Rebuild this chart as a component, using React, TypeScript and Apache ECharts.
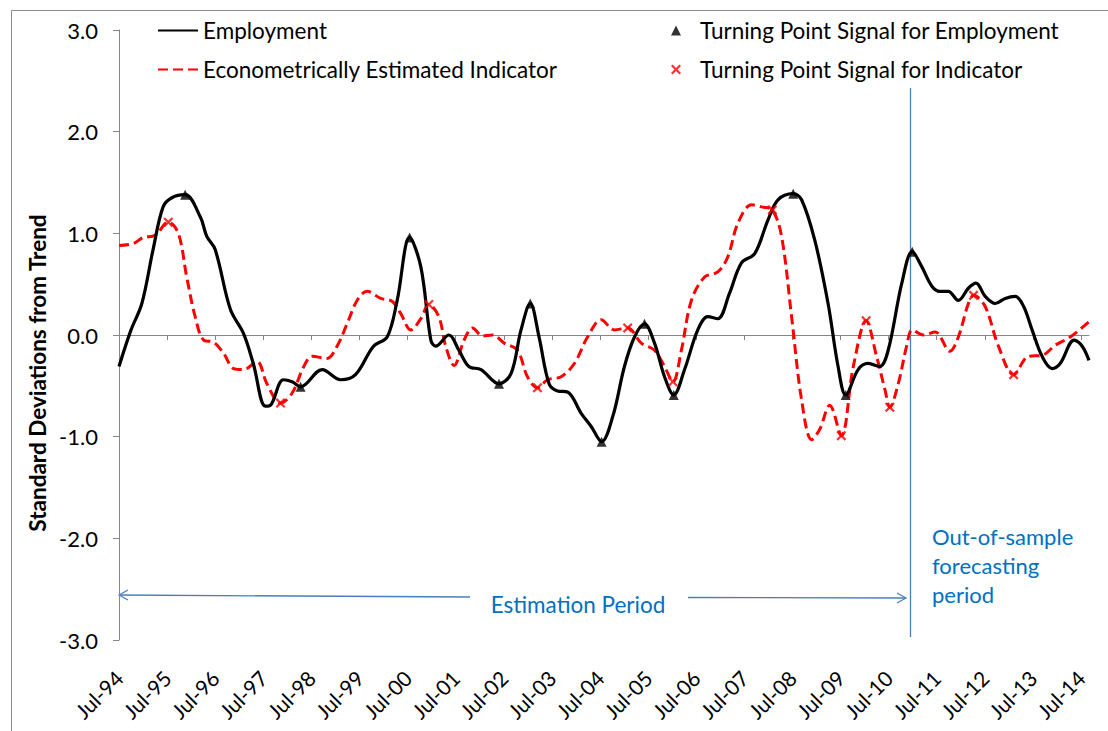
import React, { useEffect, useRef } from 'react';
import * as echarts from 'echarts';

// Tick labels (one per July, x measured in months from Jul-94)
const tickLabels = ['Jul-94','Jul-95','Jul-96','Jul-97','Jul-98','Jul-99','Jul-00','Jul-01','Jul-02','Jul-03','Jul-04','Jul-05','Jul-06','Jul-07','Jul-08','Jul-09','Jul-10','Jul-11','Jul-12','Jul-13','Jul-14'];

// Employment (standard deviations from trend) [month since Jul-94, value]
const employment: [number, number][] = [
  [0, -0.31],[3, 0.05],[5.7, 0.31],[8.5, 0.84],[11, 1.26],[13.2, 1.35],[16.5, 1.38],[20.3, 1.16],[21.9, 0.97],[24, 0.84],
  [27.8, 0.25],[31, 0.02],[33.5, -0.28],[36.5, -0.70],[37.8, -0.69],[41, -0.44],[43.2, -0.46],[45.3, -0.51],[50.7, -0.34],[55.3, -0.44],
  [59, -0.39],[63.5, -0.11],[66.9, -0.02],[69.4, 0.34],[72.5, 0.96],[75.3, 0.67],[77.8, -0.05],[79, -0.11],[82.3, 0.0],[84.8, -0.15],
  [87.3, -0.31],[90.3, -0.34],[94.8, -0.48],[97.8, -0.38],[100.3, 0.05],[102.6, 0.31],[104.8, -0.02],[107.3, -0.48],[109.4, -0.55],[111.9, -0.56],
  [115.3, -0.77],[117.8, -0.90],[120.4, -1.05],[123.2, -0.80],[126.1, -0.31],[128.6, -0.02],[131.1, 0.11],[133.6, -0.08],[136.1, -0.41],[138.4, -0.59],
  [141.1, -0.34],[144.4, 0.05],[146.9, 0.18],[149.4, 0.16],[152.3, 0.41],[155.3, 0.71],[158.6, 0.80],[161.9, 1.13],[164.4, 1.33],[168.2, 1.39],
  [170.3, 1.33],[173.6, 0.93],[176.9, 0.31],[179.4, -0.31],[181.3, -0.59],[184.4, -0.34],[186.9, -0.28],[189.8, -0.31],[191.9, -0.15],[195.3, 0.51],
  [197.9, 0.82],[200.3, 0.67],[202.8, 0.48],[204.8, 0.43],[206.9, 0.43],[209.4, 0.34],[211.9, 0.46],[213.8, 0.51],[216.1, 0.38],[218.6, 0.31],
  [221.1, 0.36],[223.6, 0.38],[225.7, 0.28],[227.8, 0.05],[230.3, -0.21],[232.8, -0.33],[234.8, -0.28],[238.3, -0.05],[240.3, -0.11],[242, -0.25]
];

// Econometrically estimated indicator
const indicator: [number, number][] = [
  [0, 0.88],[3.6, 0.90],[6.1, 0.96],[9, 0.98],[12.3, 1.11],[14.8, 1.0],[16.9, 0.57],[19, 0.18],[21.1, -0.05],[23.6, -0.07],
  [26.1, -0.18],[28.6, -0.33],[31.1, -0.34],[34.4, -0.26],[36.9, -0.48],[40.3, -0.67],[43.2, -0.57],[46.1, -0.31],[48.2, -0.21],[51.9, -0.23],
  [54.4, -0.11],[56.9, 0.11],[59.4, 0.34],[61.9, 0.43],[65.3, 0.36],[68.2, 0.33],[70.3, 0.21],[72.8, 0.05],[75.3, 0.16],[77.3, 0.30],
  [79.8, 0.18],[81.5, -0.11],[83.6, -0.30],[86.1, -0.05],[88.2, 0.07],[90.7, -0.01],[93.2, 0.0],[96.1, -0.08],[99.4, -0.15],[101.9, -0.41],
  [104.4, -0.52],[106.9, -0.44],[110.3, -0.41],[113.6, -0.28],[116.9, -0.02],[120.3, 0.15],[123.6, 0.05],[126.9, 0.07],[130.3, -0.08],[133.6, -0.15],
  [136.1, -0.31],[138.2, -0.46],[140.3, -0.15],[142.8, 0.34],[146.1, 0.57],[149.4, 0.62],[151.9, 0.77],[154.4, 1.10],[157.8, 1.28],[160.3, 1.26],
  [163, 1.23],[165.3, 0.97],[167.8, 0.18],[170.3, -0.64],[172.8, -1.03],[174.8, -0.93],[177.3, -0.69],[180.2, -0.99],[183.2, -0.31],[186.4, 0.14],
  [189, -0.21],[191.1, -0.54],[192.3, -0.71],[194.4, -0.48],[196.5, -0.11],[197.9, 0.05],[200.7, 0.0],[203.6, 0.03],[207.3, -0.16],[209.4, -0.02],
  [211.9, 0.31],[213.2, 0.39],[216.1, 0.28],[219.4, -0.11],[223.2, -0.39],[226.9, -0.21],[230.3, -0.20],[233.6, -0.10],[237.3, -0.02],[242, 0.13]
];

// Turning point signals
const employmentTurningPoints: [number, number][] = [
  [16.5, 1.38],[45.3, -0.51],[72.5, 0.96],[94.8, -0.48],[102.6, 0.31],[120.4, -1.05],[131.1, 0.11],[138.4, -0.59],[168.2, 1.39],[181.3, -0.59],[197.9, 0.82]
];
const indicatorTurningPoints: [number, number][] = [
  [12.3, 1.11],[40.3, -0.67],[77.3, 0.30],[104.4, -0.52],[126.9, 0.07],[138.2, -0.46],[163, 1.23],[180.2, -0.99],[186.4, 0.14],[192.3, -0.71],[213.2, 0.39],[223.2, -0.39]
];

const X_MAX = 242;
const FONT = 'Lato, "Open Sans", sans-serif';
const BLUE_TEXT = '#0070C0';
const BLUE_LINE = '#4A7EBB';
const CROSS = 'path://M0,1.6 L1.6,0 L5,3.4 L8.4,0 L10,1.6 L6.6,5 L10,8.4 L8.4,10 L5,6.6 L1.6,10 L0,8.4 L3.4,5 Z';

export default function App() {
  const ref = useRef<HTMLDivElement>(null);
  useEffect(() => {
    if (!ref.current) return;
    const chart = echarts.init(ref.current, undefined, { renderer: 'svg' });
    const tickValues = tickLabels.map((_, i) => i * 12);
    const labelFmt = (v: number) => {
      const i = Math.round(v / 12);
      return Math.abs(v - i * 12) < 0.01 && tickLabels[i] ? tickLabels[i] : '';
    };
    chart.setOption({
      animation: false,
      backgroundColor: '#ffffff',
      textStyle: { fontFamily: FONT },
      grid: { left: 119, right: 19, top: 30, bottom: 91, outerBoundsMode: 'none' },
      legend: [
        {
          data: ['Employment', 'Econometrically Estimated Indicator'],
          orient: 'vertical', left: 157, top: 19, padding: 0, itemWidth: 40, itemHeight: 12, itemGap: 16,
          itemStyle: { opacity: 0 },
          textStyle: { fontSize: 22.5, fontFamily: FONT, color: '#000' },
        },
        {
          data: ['Turning Point Signal for Employment', 'Turning Point Signal for Indicator'],
          orient: 'vertical', left: 671, top: 19, padding: 0, itemWidth: 10, itemHeight: 10, itemGap: 16,
          symbolKeepAspect: true,
          textStyle: { fontSize: 22.5, fontFamily: FONT, color: '#000', padding: [0, 0, 0, 14] },
        },
      ],
      xAxis: [
        {
          type: 'value', min: 0, max: X_MAX, position: 'bottom',
          axisLine: { onZero: true, lineStyle: { color: '#868686', width: 1 } },
          axisTick: { show: true, length: 5, customValues: tickValues, lineStyle: { color: '#868686' } },
          axisLabel: { show: false },
          splitLine: { show: false },
        },
        {
          type: 'value', min: 0, max: X_MAX, position: 'bottom',
          axisLine: { show: false, onZero: false },
          axisTick: { show: false },
          axisLabel: {
            show: true, rotate: 45, margin: 34, customValues: tickValues, formatter: labelFmt,
            fontSize: 21, fontFamily: FONT, color: '#000',
          },
          splitLine: { show: false },
        },
      ],
      yAxis: {
        type: 'value', min: -3, max: 3, interval: 1,
        axisLine: { show: true, lineStyle: { color: '#868686' } },
        axisTick: { show: true, length: 6, lineStyle: { color: '#868686' } },
        axisLabel: { margin: 21, fontSize: 22, fontFamily: FONT, color: '#000', formatter: (v: number) => v.toFixed(1) },
        splitLine: { show: false },
      },
      series: [
        {
          name: 'Employment', type: 'line', data: employment, xAxisIndex: 0,
          smooth: 0.35, symbol: 'none', z: 3,
          lineStyle: { color: '#000', width: 3.2, type: 'solid' },
          itemStyle: { color: '#000' },
        },
        {
          name: 'Econometrically Estimated Indicator', type: 'line', data: indicator, xAxisIndex: 0,
          smooth: 0.35, symbol: 'none', z: 2,
          lineStyle: { color: '#FF0000', width: 3, type: [10, 5] },
          itemStyle: { color: '#FF0000' },
        },
        {
          name: 'Turning Point Signal for Employment', type: 'scatter', data: employmentTurningPoints, xAxisIndex: 0,
          symbol: 'triangle', symbolSize: 10, z: 5,
          itemStyle: { color: '#000' },
        },
        {
          name: 'Turning Point Signal for Indicator', type: 'scatter', data: indicatorTurningPoints, xAxisIndex: 0,
          symbol: CROSS, symbolSize: 10, z: 5,
          itemStyle: { color: '#FF0000' },
        },
      ],
      graphic: [
        { type: 'rect', silent: true, z: -10, shape: { x: 11.5, y: 10.5, width: 1300, height: 900 }, style: { fill: 'none', stroke: '#8C8C8C', lineWidth: 1 } },
        { type: 'text', silent: true, x: 37, y: 373, rotation: Math.PI / 2,
          style: { text: 'Standard Deviations from Trend', font: `bold 22.5px ${FONT}`, fill: '#000', align: 'center', verticalAlign: 'middle' } },
        { type: 'line', silent: true, shape: { x1: 910.5, y1: 88, x2: 910.5, y2: 637 }, style: { stroke: BLUE_LINE, lineWidth: 1.3 } },
        { type: 'line', silent: true, shape: { x1: 119, y1: 595, x2: 470, y2: 597 }, style: { stroke: BLUE_LINE, lineWidth: 1.3 } },
        { type: 'polyline', silent: true, shape: { points: [[128, 590], [119, 595], [128, 600]] }, style: { stroke: BLUE_LINE, lineWidth: 1.2, fill: 'none' } },
        { type: 'line', silent: true, shape: { x1: 688, y1: 597.5, x2: 906, y2: 598 }, style: { stroke: BLUE_LINE, lineWidth: 1.3 } },
        { type: 'polyline', silent: true, shape: { points: [[897, 593], [906, 598], [897, 603]] }, style: { stroke: BLUE_LINE, lineWidth: 1.2, fill: 'none' } },
        { type: 'text', silent: true, x: 578, y: 604,
          style: { text: 'Estimation Period', font: `22.5px ${FONT}`, fill: BLUE_TEXT, align: 'center', verticalAlign: 'middle' } },
        { type: 'text', silent: true, x: 932, y: 522,
          style: { text: 'Out-of-sample\nforecasting\nperiod', font: `22px ${FONT}`, lineHeight: 29, fill: BLUE_TEXT, align: 'left', verticalAlign: 'top' } },
      ],
    });
    return () => chart.dispose();
  }, []);
  return <div ref={ref} style={{ position: 'fixed', left: 0, top: 0, width: 1108, height: 731, background: '#fff' }} />;
}
